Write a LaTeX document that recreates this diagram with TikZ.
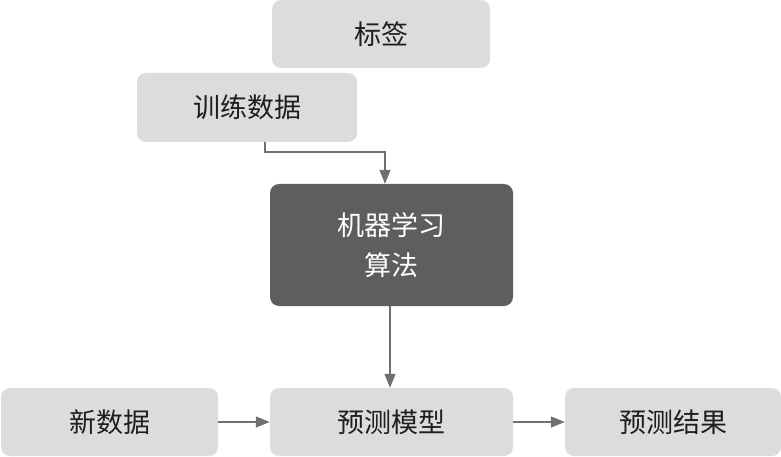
\documentclass[tikz,border=0pt]{standalone}
\usepackage{fontspec}
\setmainfont{Noto Sans CJK SC}
\usetikzlibrary{arrows.meta}
\definecolor{boxlight}{HTML}{DCDCDC}
\definecolor{boxdark}{HTML}{5E5E5E}
\definecolor{linegray}{HTML}{707070}
\definecolor{txt}{HTML}{1E1E1E}
\begin{document}
\begin{tikzpicture}[x=1pt,y=-1pt,
  lbox/.style={fill=boxlight, draw=none, rounded corners=9pt, text=txt, font=\fontsize{27}{30}\selectfont, inner sep=0pt},
  dbox/.style={fill=boxdark, draw=none, rounded corners=9pt, text=white, font=\fontsize{27}{40}\selectfont, inner sep=0pt, align=center},
  conn/.style={draw=linegray, line width=1.3pt, -{Triangle[length=14pt,width=11pt]}}]
\useasboundingbox (0,0) rectangle (781,457);
\node[lbox, minimum width=218pt, minimum height=68pt] (label) at (381,34) {标签};
\node[lbox, minimum width=220pt, minimum height=69pt] (train) at (247,107.5) {训练数据};
\node[dbox, minimum width=243pt, minimum height=122pt] (algo) at (391.5,245) {机器学习\\算法};
\node[lbox, minimum width=243pt, minimum height=68pt] (model) at (391.5,422) {预测模型};
\node[lbox, minimum width=217pt, minimum height=68pt] (new) at (109.5,422) {新数据};
\node[lbox, minimum width=216pt, minimum height=68pt] (result) at (673,422) {预测结果};
\coordinate (bend) at (265,152);
\draw[conn] (train.south -| bend) -- (bend) -- (bend -| 385,0) -- (385,0 |- algo.north);
\draw[conn] (algo.south -| 390,0) -- (390,0 |- model.north);
\draw[conn] (new.east) -- (model.west);
\draw[conn] (model.east) -- (result.west);
\end{tikzpicture}
\end{document}
